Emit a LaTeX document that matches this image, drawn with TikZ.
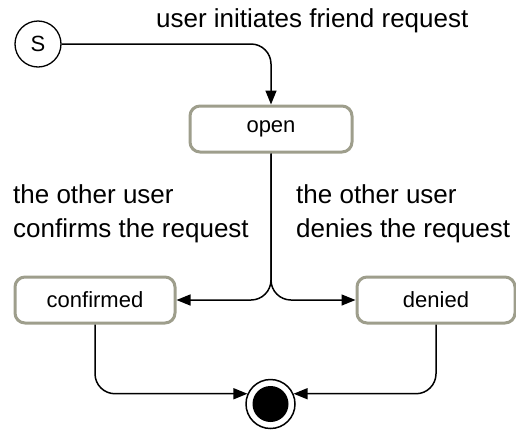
\documentclass[tikz,border=0pt]{standalone}
\usepackage{fontspec}
\setmainfont{Liberation Sans}
\usetikzlibrary{arrows.meta}
\definecolor{boxgray}{RGB}{158,158,140}
\begin{document}
\begin{tikzpicture}[x=1pt,y=-1pt,
  state/.style={draw=boxgray, line width=3pt, rounded corners=10pt, fill=white, minimum height=46pt, font=\fontsize{22}{26}\selectfont, inner sep=0pt},
  conn/.style={draw=black, line width=1.5pt, rounded corners=20pt},
  tip/.style={-{Triangle[length=14pt,width=11pt]}},
  lbl/.style={font=\fontsize{26}{31}\selectfont, inner sep=0pt}]
\useasboundingbox (0,0) rectangle (516,429);
\node[circle, draw, line width=1.3pt, minimum size=46pt, inner sep=0pt, font=\fontsize{22}{26}\selectfont] (s) at (38,44) {S};
\node[state, minimum width=162pt] (open) at (271,129) {open};
\node[state, minimum width=160pt] (conf) at (95,300) {confirmed};
\node[state, minimum width=158pt] (deny) at (436,300) {denied};
\node[circle, draw, line width=1.5pt, minimum size=49pt, inner sep=0pt] (end) at (270.5,404) {};
\node[circle, fill=black, minimum size=36pt, inner sep=0pt] (endin) at (end.center) {};
\draw[conn, tip] (s.east) -| (open.north);
\draw[conn, tip] (open.south) |- (conf.east);
\draw[conn, tip] (open.south) |- (deny.west);
\draw[conn, tip] (conf.south) |- (end.156);
\draw[conn, tip] (deny.south) |- (end.24);
\node[lbl, anchor=base west] (l1) at (156,27) {user initiates friend request};
\node[lbl, anchor=base west] (l2a) at (13,203) {the other user};
\node[lbl, anchor=base west] (l2b) at (13,237) {confirms the request};
\node[lbl, anchor=base west] (l3a) at (296,203) {the other user};
\node[lbl, anchor=base west] (l3b) at (296,237) {denies the request};
\end{tikzpicture}
\end{document}
